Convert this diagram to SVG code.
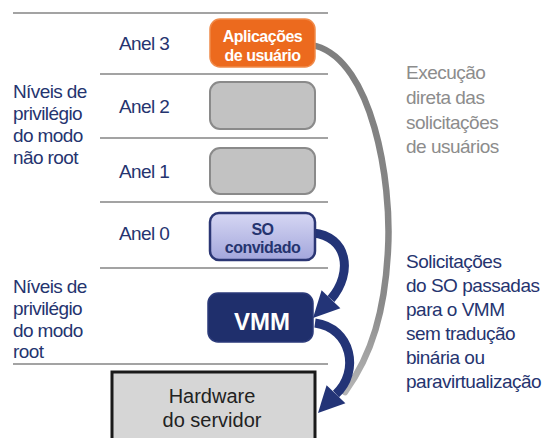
<svg xmlns="http://www.w3.org/2000/svg" width="546" height="438" viewBox="0 0 546 438">
  <defs>
    <style>
      .sep { stroke: #a3a3a3; stroke-width: 2; fill: none; }
      .lbl { font-family: "Liberation Sans", Arial, sans-serif; font-size: 19px; letter-spacing: -0.6px; fill: #25346f; }
      .note { font-family: "Liberation Sans", Arial, sans-serif; font-size: 19px; letter-spacing: -0.5px; fill: #8c8c8c; }
      .note2 { font-family: "Liberation Sans", Arial, sans-serif; font-size: 19px; letter-spacing: -0.5px; fill: #25346f; }
      .boxtxt { font-family: "Liberation Sans", Arial, sans-serif; font-weight: bold; font-size: 16px; letter-spacing: -0.5px; text-anchor: middle; }
      .ring { fill: #c2c2c2; stroke: #8a8a8a; stroke-width: 2; }
      .blue { stroke: #233477; stroke-width: 9; fill: none; }
      .head { fill: #233477; }
    </style>
    <linearGradient id="soGrad" x1="0" y1="0" x2="0" y2="1">
      <stop offset="0" stop-color="#d6d7f3"/>
      <stop offset="1" stop-color="#a3a6dc"/>
    </linearGradient>
    <linearGradient id="grayFade" x1="0" y1="0" x2="0" y2="1">
      <stop offset="0" stop-color="#7f7f7f"/>
      <stop offset="0.75" stop-color="#8a8a8a"/>
      <stop offset="1" stop-color="#b5b5b5"/>
    </linearGradient>
  </defs>

  <!-- ring separators -->
  <g id="separators">
    <line class="sep" x1="13" y1="13" x2="328" y2="13"/>
    <line class="sep" x1="100" y1="74" x2="328" y2="74"/>
    <line class="sep" x1="100" y1="138" x2="328" y2="138"/>
    <line class="sep" x1="100" y1="202" x2="328" y2="202"/>
    <line class="sep" x1="100" y1="268" x2="328" y2="268"/>
    <line class="sep" x1="13" y1="364" x2="328" y2="364"/>
  </g>

  <!-- side labels -->
  <g id="label-nonroot">
    <text class="lbl" x="13" y="98">Níveis de</text>
    <text class="lbl" x="13" y="120">privilégio</text>
    <text class="lbl" x="13" y="142">do modo</text>
    <text class="lbl" x="13" y="164">não root</text>
  </g>
  <g id="label-root">
    <text class="lbl" x="13" y="293">Níveis de</text>
    <text class="lbl" x="13" y="315">privilégio</text>
    <text class="lbl" x="13" y="337">do modo</text>
    <text class="lbl" x="13" y="358">root</text>
  </g>
  <g id="ring-labels">
    <text class="lbl" x="119" y="50">Anel 3</text>
    <text class="lbl" x="119" y="113">Anel 2</text>
    <text class="lbl" x="119" y="178">Anel 1</text>
    <text class="lbl" x="119" y="240">Anel 0</text>
  </g>

  <!-- connectors -->
  <g id="connectors">
    <path d="M316,46 C372,62 392,180 388,250 C385,310 372,355 345,392" stroke="url(#grayFade)" stroke-width="6.5" fill="none" stroke-linecap="round"/>
    <path class="blue" d="M313,233 C347,236 354,272 331,299"/>
    <polygon class="head" points="313,318 340.4,308.3 321.6,290.3"/>
    <path class="blue" d="M315,323 C352,328 360,372 336,394"/>
    <polygon class="head" points="318,413 345.4,403.3 326.6,385.3"/>
  </g>

  <!-- nodes -->
  <g id="node-apps">
    <rect x="210" y="19" width="105" height="48" rx="10" fill="#ec6a1e" stroke="#f08a4a" stroke-width="1.5"/>
    <text class="boxtxt" x="262.5" y="42" fill="#ffffff">Aplicações</text>
    <text class="boxtxt" x="262.5" y="61" fill="#ffffff">de usuário</text>
  </g>
  <g id="node-ring2">
    <rect class="ring" x="210" y="82" width="105" height="47" rx="10"/>
  </g>
  <g id="node-ring1">
    <rect class="ring" x="210" y="148" width="105" height="46" rx="10"/>
  </g>
  <g id="node-guest">
    <rect x="210" y="213" width="105" height="47" rx="9" fill="url(#soGrad)" stroke="#2b3674" stroke-width="2.5"/>
    <text class="boxtxt" x="262.5" y="235" fill="#25346f">SO</text>
    <text class="boxtxt" x="262.5" y="253" fill="#25346f">convidado</text>
  </g>
  <g id="node-vmm">
    <rect x="208" y="293" width="105" height="49" rx="10" fill="#1f2f6c" stroke="#2b3a7a" stroke-width="1.5"/>
    <text x="262" y="330" font-family="Liberation Sans, Arial, sans-serif" font-weight="bold" font-size="24" fill="#ffffff" text-anchor="middle">VMM</text>
  </g>
  <g id="node-hardware">
    <rect x="112" y="372" width="203" height="70" fill="#d6d6d6" stroke="#1a1a1a" stroke-width="3"/>
    <text x="212" y="403" font-family="Liberation Sans, Arial, sans-serif" font-size="20" fill="#222222" text-anchor="middle">Hardware</text>
    <text x="212" y="427" font-family="Liberation Sans, Arial, sans-serif" font-size="20" fill="#222222" text-anchor="middle">do servidor</text>
  </g>

  <!-- annotations -->
  <g id="note-direct">
    <text class="note" x="406" y="79">Execução</text>
    <text class="note" x="406" y="104">direta das</text>
    <text class="note" x="406" y="129">solicitações</text>
    <text class="note" x="406" y="153">de usuários</text>
  </g>
  <g id="note-vmm">
    <text class="note2" x="406" y="268">Solicitações</text>
    <text class="note2" x="406" y="292">do SO passadas</text>
    <text class="note2" x="406" y="316">para o VMM</text>
    <text class="note2" x="406" y="340">sem tradução</text>
    <text class="note2" x="406" y="364">binária ou</text>
    <text class="note2" x="406" y="388">paravirtualização</text>
  </g>
</svg>
